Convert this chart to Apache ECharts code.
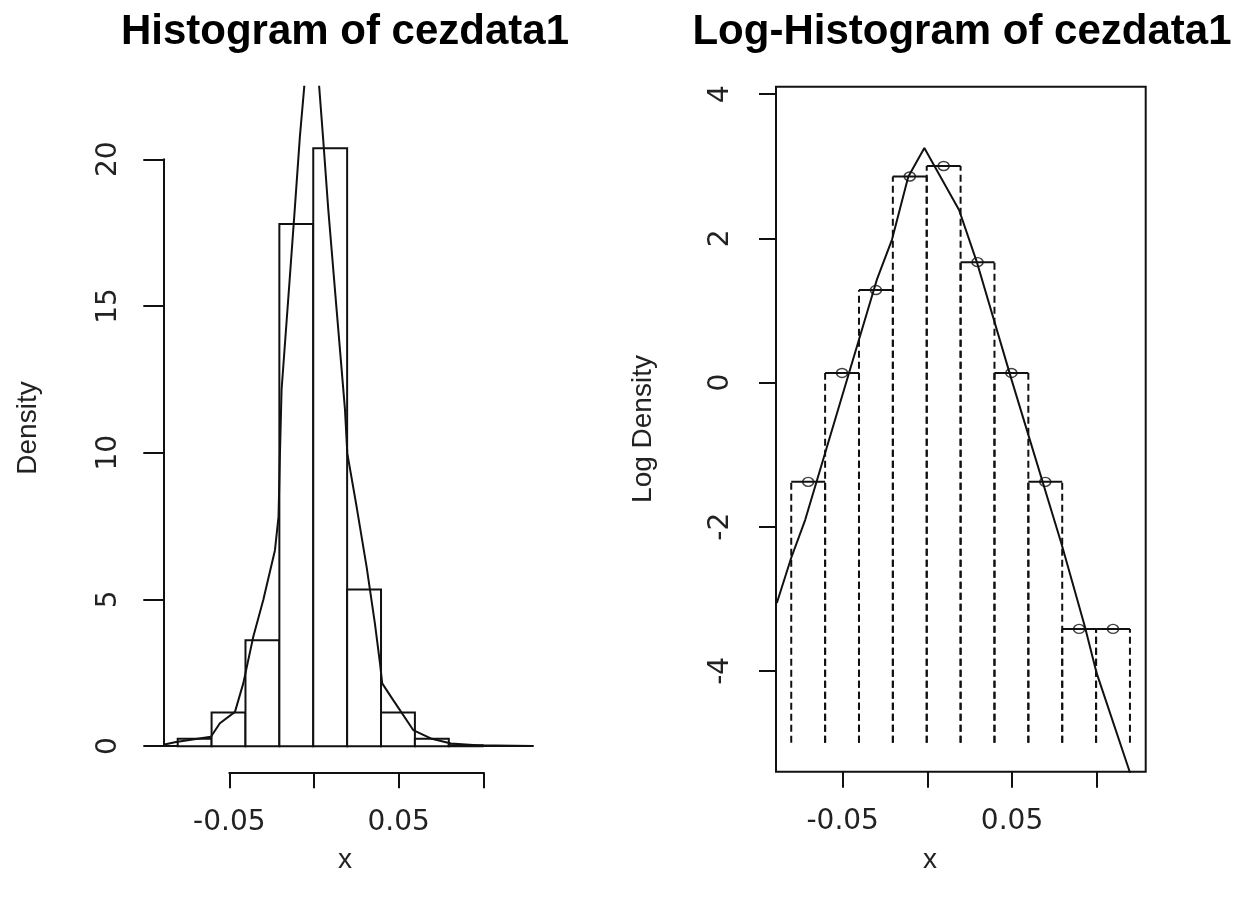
<!DOCTYPE html>
<html>
<head>
<meta charset="utf-8">
<script src="https://cdn.jsdelivr.net/npm/echarts@6/dist/echarts.min.js"></script>
<style>
  html, body { margin: 0; padding: 0; background: #fff; }
  #chart { width: 1239px; height: 899px; }
</style>
</head>
<body>
<div id="chart"></div>
<script>
// bin edges shared by both panels
const breaks = [-0.08, -0.06, -0.04, -0.02, 0, 0.02, 0.04, 0.06, 0.08, 0.1, 0.12];
// left: histogram densities (last visible bar is 0.08..0.10)
const histDensity = [0.25, 1.15, 3.61, 17.8, 20.38, 5.34, 1.15, 0.25, 0.03];
// right: log of the bin densities
const logDensity = [-1.38, 0.13, 1.28, 2.855, 3.0, 1.667, 0.13, -1.38, -3.42, -3.42];
const logFloor = -5;

// fitted density line, left panel
const fitX = [-0.0885, -0.081, -0.0604, -0.0551, -0.0462, -0.0413, -0.0354, -0.0295, -0.0226,
  -0.0205, -0.0197, -0.0187, -0.0138, -0.0108, -0.0079, -0.0053, -0.0014, 0.0035, 0.0059,
  0.0089, 0.0138, 0.0187, 0.0201, 0.0256, 0.0315, 0.0364, 0.0394, 0.0407, 0.0472, 0.059,
  0.07, 0.0813, 0.0965, 0.1297];
const fitY = [0.05, 0.14, 0.32, 0.78, 1.17, 2.14, 3.73, 4.98, 6.68,
  7.82, 9.86, 12.14, 16.0, 18.39, 20.77, 22.48, 25.8, 22.48, 20.66,
  18.27, 14.87, 11.5, 9.98, 8.16, 6.11, 4.18, 2.82, 2.14, 1.57, 0.55,
  0.25, 0.09, 0.03, 0.004];

// fitted log density line, right panel
const logFitX = [-0.0885, -0.0801, -0.0718, -0.0295, -0.0205, -0.0109, -0.0014, 0.0191,
  0.0295, 0.0503, 0.0797, 0.0934, 0.1003, 0.1194, 0.1297];
const logFitY = [-3.06, -2.44, -1.91, 1.42, 1.98, 2.85, 3.25, 2.39,
  1.675, 0.02, -2.25, -3.39, -4.03, -5.37, -6.1];

const xTicks = ['-0.05', '', '0.05', ''];
const leftYTicks = ['0', '5', '10', '15', '20'];
const rightYTicks = ['-4', '-2', '0', '2', '4'];

const ink = "#111";
const numFont = "DejaVu Sans";

const histData = histDensity.map((d, i) => [breaks[i], breaks[i + 1], d]);
const logBins = logDensity.map((v, i) => [breaks[i], breaks[i + 1], v]);
const logPoints = logDensity.map((v, i) => [(breaks[i] + breaks[i + 1]) / 2, v]);

const hidden = { show: false };
function hiddenAxis(grid, extra) {
  return Object.assign({ type: "value", gridIndex: grid, axisLine: hidden, axisTick: hidden,
    axisLabel: hidden, splitLine: hidden }, extra || {});
}

const myChart = echarts.init(document.getElementById("chart"));
const option = {
  animation: false,
  backgroundColor: "#fff",
  grid: [
    { left: 163.3, top: 86.7, width: 369.7, height: 685 },
    { left: 163.3, top: 159.3, width: 369.7, height: 586.7 },
    { left: 229.3, top: 700, width: 254, height: 72.3 },
    { left: 776, top: 86.7, width: 369.7, height: 685, show: true, borderColor: ink, borderWidth: 2 },
    { left: 776, top: 94.1, width: 369.7, height: 576.8 },
    { left: 842.7, top: 700, width: 254, height: 71.7 },
  ],
  xAxis: [
    hiddenAxis(0, { min: -0.0885, max: 0.1297, axisLine: { show: true, onZero: true, lineStyle: { color: ink, width: 2 } } }),
    hiddenAxis(1),
    {
      type: "value", gridIndex: 2, min: -0.05, max: 0.1, interval: 0.05,
      axisLine: { show: true, lineStyle: { color: ink, width: 2 } },
      axisTick: { show: true, length: 16, lineStyle: { color: ink, width: 2 } },
      axisLabel: { margin: 36, fontSize: 28, fontFamily: numFont, color: "#222",
        formatter: (v, i) => xTicks[i] },
      splitLine: hidden,
    },
    hiddenAxis(3, { min: -0.089, max: 0.1293 }),
    hiddenAxis(4),
    {
      type: "value", gridIndex: 5, min: -0.05, max: 0.1, interval: 0.05,
      axisLine: hidden,
      axisTick: { show: true, length: 16, lineStyle: { color: ink, width: 2 } },
      axisLabel: { margin: 36, fontSize: 28, fontFamily: numFont, color: "#222",
        formatter: (v, i) => xTicks[i] },
      splitLine: hidden,
    },
  ],
  yAxis: [
    hiddenAxis(0, { min: -0.87, max: 22.48 }),
    {
      type: "value", gridIndex: 1, min: 0, max: 20, interval: 5,
      axisLine: { show: true, lineStyle: { color: ink, width: 2 } },
      axisTick: { show: true, length: 20, lineStyle: { color: ink, width: 2 } },
      axisLabel: { margin: 41, rotate: 90, fontSize: 28, fontFamily: numFont, color: "#222",
        formatter: (v, i) => leftYTicks[i] },
      splitLine: hidden,
    },
    hiddenAxis(2),
    hiddenAxis(3, { min: -5.4, max: 4.1 }),
    {
      type: "value", gridIndex: 4, min: -4, max: 4, interval: 2,
      axisLine: hidden,
      axisTick: { show: true, length: 17, lineStyle: { color: ink, width: 2 } },
      axisLabel: { margin: 41, rotate: 90, fontSize: 28, fontFamily: numFont, color: "#222",
        formatter: (v, i) => rightYTicks[i] },
      splitLine: hidden,
    },
    hiddenAxis(5),
  ],
  graphic: [
    { type: "text", x: 345, y: 32, style: { text: "Histogram of cezdata1", fontSize: 42, fontWeight: "bold",
      fontFamily: "Liberation Sans", fill: "#000", align: "center", verticalAlign: "middle" } },
    { type: "text", x: 962, y: 32, style: { text: "Log-Histogram of cezdata1", fontSize: 42, fontWeight: "bold",
      fontFamily: "Liberation Sans", fill: "#000", align: "center", verticalAlign: "middle" } },
    { type: "text", x: 28.5, y: 428, rotation: Math.PI / 2, style: { text: "Density", fontSize: 28,
      fontFamily: "Liberation Sans", fill: "#222", align: "center", verticalAlign: "middle" } },
    { type: "text", x: 643, y: 429, rotation: Math.PI / 2, style: { text: "Log Density", fontSize: 28,
      fontFamily: "Liberation Sans", fill: "#222", align: "center", verticalAlign: "middle" } },
    { type: "text", x: 345, y: 860, style: { text: "x", fontSize: 28, fontFamily: "Liberation Sans",
      fill: "#222", align: "center", verticalAlign: "middle" } },
    { type: "text", x: 930, y: 860, style: { text: "x", fontSize: 28, fontFamily: "Liberation Sans",
      fill: "#222", align: "center", verticalAlign: "middle" } },
  ],
  series: [
    {
      type: "custom", xAxisIndex: 0, yAxisIndex: 0, data: histData, silent: true,
      renderItem: function (params, api) {
        const p0 = api.coord([api.value(0), api.value(2)]);
        const p1 = api.coord([api.value(1), 0]);
        return {
          type: "rect",
          shape: { x: p0[0], y: p0[1], width: p1[0] - p0[0], height: p1[1] - p0[1] },
          style: { fill: "#fff", stroke: ink, lineWidth: 2 },
        };
      },
    },
    {
      type: "line", xAxisIndex: 0, yAxisIndex: 0, silent: true, showSymbol: false, z: 5,
      data: fitX.map((x, i) => [x, fitY[i]]),
      lineStyle: { color: ink, width: 2 },
    },
    {
      type: "custom", xAxisIndex: 3, yAxisIndex: 3, data: logBins, silent: true,
      renderItem: function (params, api) {
        const x0 = api.value(0), x1 = api.value(1), v = api.value(2);
        const a = api.coord([x0, v]), b = api.coord([x1, v]);
        const a0 = api.coord([x0, logFloor]), b0 = api.coord([x1, logFloor]);
        const dash = { stroke: ink, lineWidth: 2, lineDash: [7, 4] };
        return {
          type: "group",
          children: [
            { type: "line", shape: { x1: a0[0], y1: a0[1], x2: a[0], y2: a[1] }, style: dash },
            { type: "line", shape: { x1: b0[0], y1: b0[1], x2: b[0], y2: b[1] }, style: dash },
            { type: "line", shape: { x1: a[0], y1: a[1], x2: b[0], y2: b[1] }, style: { stroke: ink, lineWidth: 2 } },
          ],
        };
      },
    },
    {
      type: "line", xAxisIndex: 3, yAxisIndex: 3, silent: true, showSymbol: false, z: 5,
      data: logFitX.map((x, i) => [x, logFitY[i]]),
      lineStyle: { color: ink, width: 2 },
    },
    {
      type: "scatter", xAxisIndex: 3, yAxisIndex: 3, silent: true, z: 6,
      data: logPoints, symbol: "circle", symbolSize: [11, 9],
      itemStyle: { color: "rgba(0,0,0,0)", borderColor: ink, borderWidth: 1.5 },
    },
  ],
};
myChart.setOption(option);
</script>
</body>
</html>
